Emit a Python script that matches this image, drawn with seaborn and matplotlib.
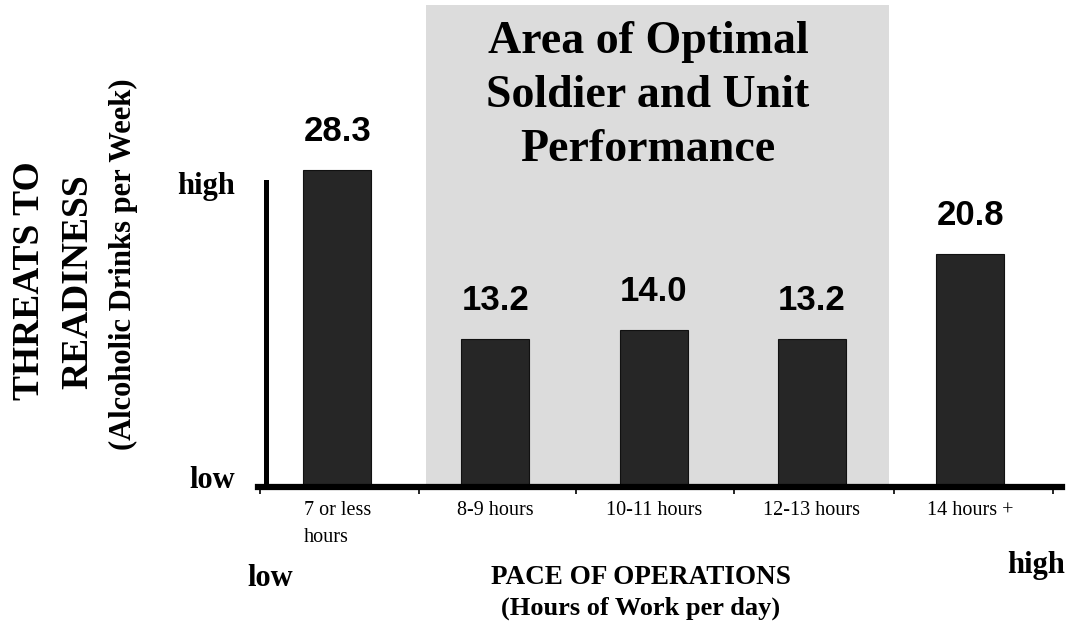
import matplotlib
matplotlib.use("Agg")
import matplotlib.pyplot as plt
import seaborn as sns
import pandas as pd

categories = ["7 or less\nhours", "8-9 hours", "10-11 hours", "12-13 hours", "14 hours +"]
values = [28.3, 13.2, 14.0, 13.2, 20.8]
value_labels = ["28.3", "13.2", "14.0", "13.2", "20.8"]
y_tick_labels = ["low", "high"]
title_text = "Area of Optimal\nSoldier and Unit\nPerformance"

sns.set_style("white")
plt.rcParams["font.family"] = ["Liberation Serif", "DejaVu Serif"]
plt.rcParams["text.color"] = "black"
plt.rcParams["xtick.color"] = "black"
plt.rcParams["ytick.color"] = "black"

W, H = 1080, 628
fig = plt.figure(figsize=(W / 100, H / 100), dpi=100)
ax = fig.add_axes([258 / W, (H - 487) / H, (1062 - 258) / W, (487 - 5) / H])

df = pd.DataFrame({"cat": categories, "val": values})

# shaded optimal area
ax.axvspan(0.56, 3.49, ymin=0, ymax=1, color="#dcdcdc", zorder=0, lw=0)

sns.barplot(data=df, x="cat", y="val", color="#262626", saturation=1,
            width=0.43, ax=ax, zorder=2, edgecolor="#111111", linewidth=0.8)

ax.set_xlim(-0.5, 4.58)
ax.set_ylim(0, 43.0)

ax.bar_label(ax.containers[0], labels=value_labels, padding=16, color="black",
             fontsize=25, fontweight="bold", family="Liberation Sans")

# spines
for s in ["top", "right"]:
    ax.spines[s].set_visible(False)
ax.spines["bottom"].set_linewidth(4.5)
ax.spines["bottom"].set_color("black")
ax.spines["left"].set_linewidth(3.6)
ax.spines["left"].set_color("black")
ax.spines["left"].set_position(("data", -0.45))
ax.spines["left"].set_bounds(0, 27.2)

# x ticks
ax.set_xticks(range(len(categories)))
ax.set_xticklabels(categories, fontsize=14.5, multialignment="left", linespacing=1.55)
ax.tick_params(axis="x", which="major", length=0, pad=10)
ax.set_xticks([-0.49, 0.52, 1.51, 2.51, 3.52, 4.52], minor=True)
ax.tick_params(axis="x", which="minor", length=5, width=1.2, direction="out", bottom=True)

# y ticks
ax.set_yticks([0.9, 27.1])
ax.set_yticklabels(y_tick_labels, fontsize=22, fontweight="bold")
ax.tick_params(axis="y", length=0, pad=22)

ax.set_xlabel("")
ax.set_ylabel("")

# y label lines
def ft(x, y, s, **kw):
    fig.text(x / W, 1 - y / H, s, ha="center", va="center", **kw)

ft(30, 281, "THREATS TO", rotation=90, fontsize=27, fontweight="bold")
ft(78, 282, "READINESS", rotation=90, fontsize=27, fontweight="bold")
ft(123, 264, "(Alcoholic Drinks per Week)", rotation=90, fontsize=22, fontweight="bold")

# title in shaded area
ft(648, 96, title_text, fontsize=33, fontweight="bold", linespacing=1.38)

# bottom annotations
ft(270, 578, "low", fontsize=22, fontweight="bold")
ft(1036, 566, "high", fontsize=22, fontweight="bold")
ft(641, 578, "PACE OF OPERATIONS", fontsize=19.5, fontweight="bold")
ft(641, 608, "(Hours of Work per day)", fontsize=19, fontweight="bold")

fig.savefig("out.png", dpi=100)
